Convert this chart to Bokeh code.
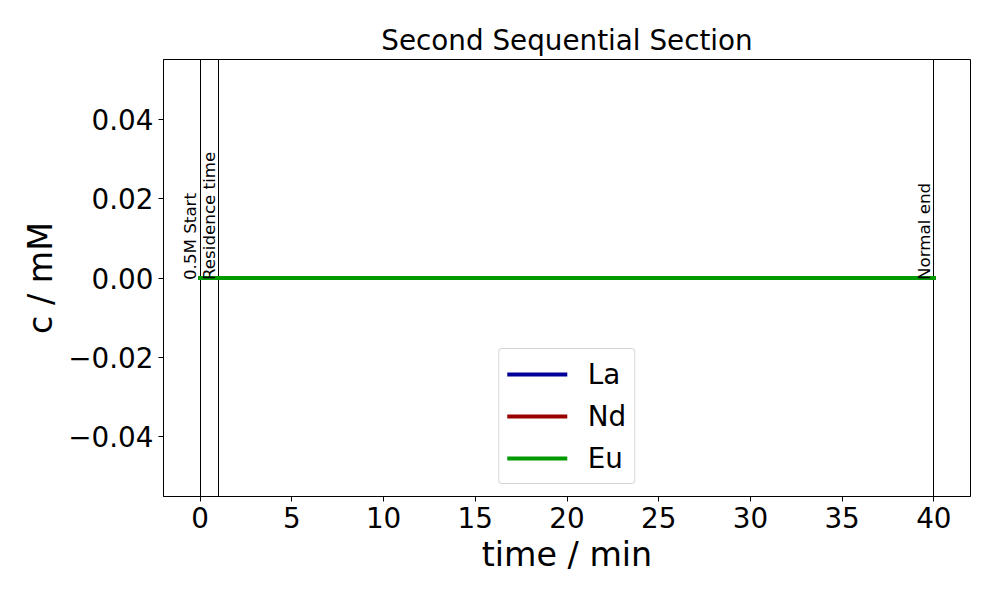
import math
from bokeh.plotting import figure
from bokeh.models import ColumnDataSource, FixedTicker, CustomJSTickFormatter, Range1d, Legend, LegendItem
from bokeh.core.properties import value
from bokeh.embed import file_html
from bokeh.resources import INLINE

# ---- data ----
time_min = [0, 10, 20, 30, 40]
la_mM = [0.0, 0.0, 0.0, 0.0, 0.0]
nd_mM = [0.0, 0.0, 0.0, 0.0, 0.0]
eu_mM = [0.0, 0.0, 0.0, 0.0, 0.0]
series_names = ["La", "Nd", "Eu"]
series_colors = ["#000099", "#990000", "#009900"]

event_times = [0, 1, 40]
event_labels = ["0.5M Start", "Residence time", "Normal end"]
event_y = [0.0, 0.0, 0.0]

x_ticks = [0, 5, 10, 15, 20, 25, 30, 35, 40]
y_ticks = [-0.04, -0.02, 0.0, 0.02, 0.04]

FONT = "DejaVu Sans"

p = figure(width=984, height=584, output_backend="svg", toolbar_location=None,
           x_range=Range1d(-2.0, 42.0), y_range=Range1d(-0.055, 0.055),
           title="Second Sequential Section",
           min_border_left=163, min_border_right=14, min_border_top=59, min_border_bottom=88)

p.background_fill_color = "white"
p.border_fill_color = "white"
p.outline_line_color = "black"
p.outline_line_width = 1
p.outline_line_alpha = 1.0
p.grid.visible = False

p.title.text_font = FONT
p.title.text_font_size = "27.8px"
p.title.text_font_style = "normal"
p.title.align = "center"
p.title.text_color = "black"
p.title.standoff = 5

for ax in (p.xaxis[0], p.yaxis[0]):
    ax.axis_line_color = "black"
    ax.major_tick_line_color = "black"
    ax.major_tick_in = 0
    ax.major_tick_out = 5
    ax.minor_tick_line_color = None
    ax.major_label_text_font = FONT
    ax.major_label_text_font_size = "27.8px"
    ax.major_label_text_color = "black"
    ax.axis_label_text_font = FONT
    ax.axis_label_text_font_size = "33.3px"
    ax.axis_label_text_font_style = "normal"
    ax.axis_label_text_color = "black"
    ax.major_label_standoff = 5

p.xaxis[0].ticker = FixedTicker(ticks=x_ticks)
p.yaxis[0].ticker = FixedTicker(ticks=y_ticks)
p.yaxis[0].formatter = CustomJSTickFormatter(code="""
    const s = Math.abs(tick) < 1e-12 ? (0).toFixed(2) : tick.toFixed(2);
    return s.replace('-', '\u2212');
""")
p.xaxis[0].axis_label = "time / min"
p.yaxis[0].axis_label = "c / mM"
p.xaxis[0].axis_label_standoff = 4
p.yaxis[0].axis_label_standoff = 5

# vertical event lines
ev_src = ColumnDataSource(dict(x=event_times, y=event_y, label=event_labels))
p.vspan(x="x", source=ev_src, line_color="black", line_width=1)

# series
src = ColumnDataSource(dict(t=time_min, La=la_mM, Nd=nd_mM, Eu=eu_mM))
items = []
for name, col in zip(series_names, series_colors):
    r = p.line(x="t", y=name, source=src, line_color=col, line_width=4.2, line_cap="square")
    items.append(LegendItem(label=name, renderers=[r]))

# event labels
p.text(x="x", y="y", text="label", source=ev_src, angle=math.pi / 2,
       text_align="left", text_baseline="bottom", text_color="black",
       text_font=value(FONT), text_font_size="16.7px", y_offset=2)

legend = Legend(items=items, location="bottom_center")
legend.margin = 12
legend.padding = 8
legend.spacing = 8
legend.glyph_width = 60
legend.glyph_height = 34
legend.label_standoff = 21
legend.label_text_font = FONT
legend.label_text_font_size = "27.8px"
legend.label_text_color = "black"
legend.border_line_color = "#cccccc"
legend.border_line_alpha = 0.8
legend.border_line_width = 1
legend.background_fill_color = "white"
legend.background_fill_alpha = 0.8
if "border_radius" in legend.properties():
    legend.border_radius = 4
p.add_layout(legend, "center")

open("out.html", "w").write(file_html(p, INLINE))
